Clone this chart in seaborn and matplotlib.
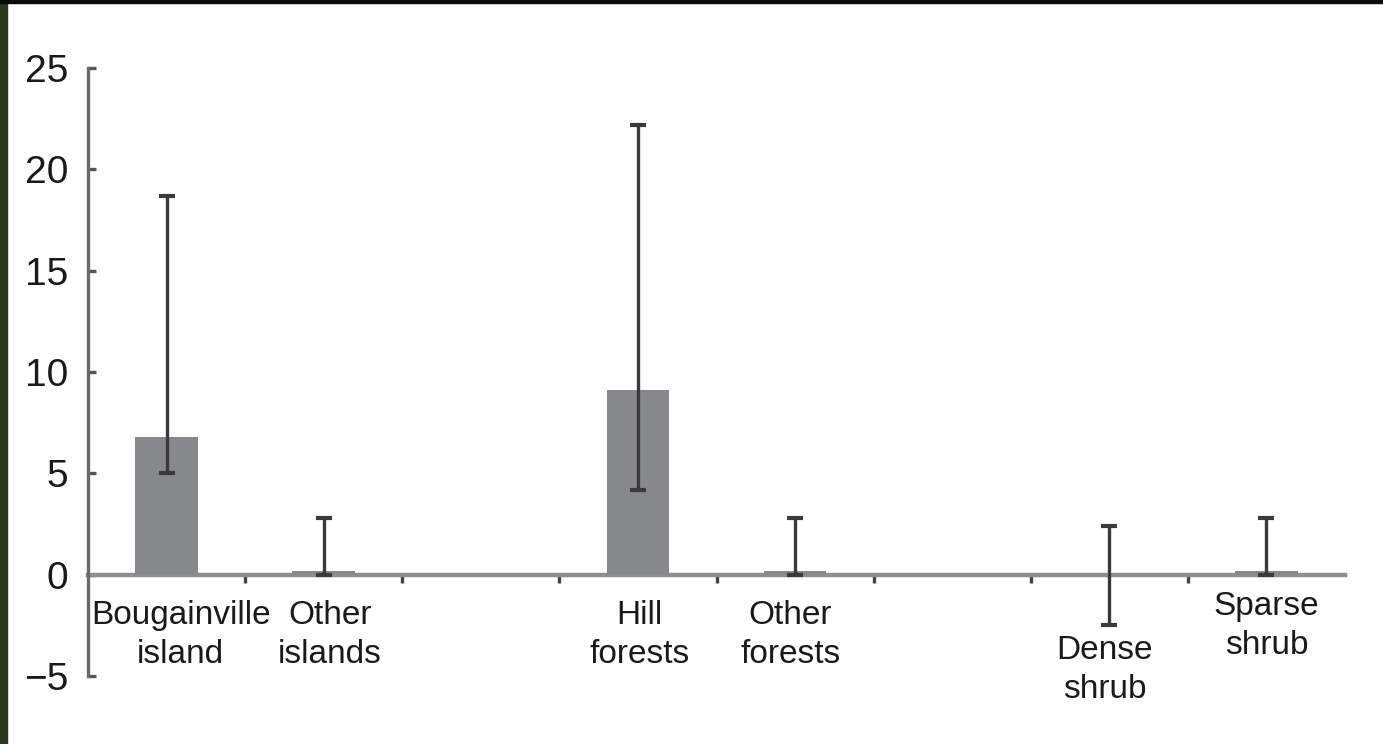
import matplotlib
matplotlib.use("Agg")
import matplotlib.pyplot as plt
import seaborn as sns
import pandas as pd
from matplotlib.patches import Rectangle

# Categories (blank slots separate the three groups)
slots = ["Bougainville\nisland", "Other\nislands", "gap1",
         "Hill\nforests", "Other\nforests", "gap2",
         "Dense\nshrub", "Sparse\nshrub"]
categories = ["Bougainville\nisland", "Other\nislands",
              "Hill\nforests", "Other\nforests",
              "Dense\nshrub", "Sparse\nshrub"]
means = [6.8, 0.2, 9.1, 0.2, 0.0, 0.2]
lower = [5.0, 0.0, 4.2, 0.0, -2.5, 0.0]
upper = [18.7, 2.8, 22.2, 2.8, 2.4, 2.8]
yticks = [-5, 0, 5, 10, 15, 20, 25]

# Label placement: (x shift in slots, top of label in data units)
label_pos = [(0.09, -1.25), (0.04, -1.25), (0.01, -1.25),
             (-0.03, -1.25), (-0.03, -3.0), (0.0, -0.8)]

sns.set_theme(style="white")
plt.rcParams["font.family"] = ["Liberation Sans", "DejaVu Sans"]

fig = plt.figure(figsize=(13.83, 7.44), dpi=100)
ax = fig.add_axes([88 / 1383, 1 - 676 / 744, (1345 - 88) / 1383, (676 - 68) / 744])

df = pd.DataFrame({"cat": categories, "val": means})
bar_color = "#87888c"
sns.barplot(data=df, x="cat", y="val", order=slots, color=bar_color,
            saturation=1, width=0.4, errorbar=None, ax=ax,
            edgecolor=bar_color, linewidth=0, zorder=2)

xpos = [slots.index(c) for c in categories]
err_lo = [m - l for m, l in zip(means, lower)]
err_hi = [u - m for m, u in zip(means, upper)]
ax.errorbar(xpos, means, yerr=[err_lo, err_hi], fmt="none",
            ecolor="#3a3a3a", elinewidth=2.4, capsize=5.5, capthick=3, zorder=5)

ax.set_xlim(-0.5, len(slots) - 0.5)
ax.set_ylim(-5, 25)
ax.set_yticks(yticks)
ax.set_yticklabels([str(t).replace("-", "\u2212") for t in yticks])
ax.set_xlabel("")
ax.set_ylabel("")

axis_gray = "#8e8e8e"
for s in ["top", "right"]:
    ax.spines[s].set_visible(False)
ax.spines["left"].set_color("#6a6a6a")
ax.spines["left"].set_linewidth(2.4)
ax.spines["bottom"].set_position(("data", 0))
ax.spines["bottom"].set_color(axis_gray)
ax.spines["bottom"].set_linewidth(3.2)
ax.spines["bottom"].set_zorder(1)

ax.tick_params(axis="y", direction="in", length=6, width=2.4, color="#555555",
               labelsize=28, pad=14, labelcolor="#1a1a1a", left=True)
ax.set_xticks([i + 0.5 for i in range(len(slots) - 1)])
ax.set_xticklabels([])
ax.tick_params(axis="x", direction="out", length=6, width=2.4, color="#444444",
               bottom=True)

for cat, xi, (dx, ytop) in zip(categories, xpos, label_pos):
    ax.text(xi + dx, ytop, cat, ha="center", va="top", fontsize=24,
            color="#1a1a1a", linespacing=1.32, clip_on=False)

# Frame edges
fig.patches.append(Rectangle((0, 0), 7 / 1383, 1, transform=fig.transFigure,
                             color="#2b3a1a", zorder=10))
fig.patches.append(Rectangle((0, 1 - 3 / 744), 1, 3 / 744, transform=fig.transFigure,
                             color="#0a0a0a", zorder=10))

fig.savefig("out.png", dpi=100)
